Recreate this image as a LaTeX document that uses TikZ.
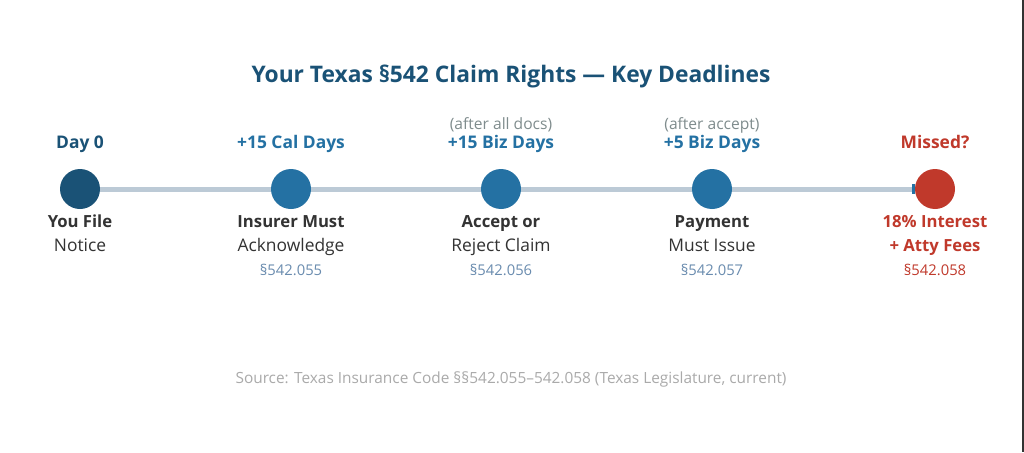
\documentclass[tikz,border=0pt]{standalone}
\usepackage{fontspec}
\setmainfont{Open Sans}
\usetikzlibrary{arrows.meta,backgrounds}
\definecolor{navy}{HTML}{1A5276}
\definecolor{mblue}{HTML}{2471A3}
\definecolor{redc}{HTML}{C0392B}
\definecolor{linec}{HTML}{BCCAD6}
\definecolor{dark}{HTML}{333333}
\definecolor{secc}{HTML}{6A8CAF}
\definecolor{grayc}{HTML}{7F8C8D}
\definecolor{srcc}{HTML}{AAAAAA}
\tikzset{
  dot/.style={circle, minimum size=40pt, inner sep=0pt},
  when/.style={anchor=base, inner sep=0pt, font=\fontsize{17.4}{20}\selectfont\bfseries},
  note/.style={anchor=base, inner sep=0pt, font=\fontsize{15.6}{18}\selectfont, text=grayc},
  head/.style={anchor=base, inner sep=0pt, font=\fontsize{16.7}{19}\selectfont\bfseries, text=dark},
  body/.style={anchor=base, inner sep=0pt, font=\fontsize{17.4}{20}\selectfont, text=dark},
  sect/.style={anchor=base, inner sep=0pt, font=\fontsize{14.8}{17}\selectfont, text=secc},
}
\begin{document}
\begin{tikzpicture}[x=1pt,y=-1pt]
\useasboundingbox (0,0) rectangle (1024,452);
% title
\node[anchor=base, inner sep=0pt, font=\fontsize{22.8}{26}\selectfont\bfseries, text=navy] (title) at (511,82) {Your Texas §542 Claim Rights — Key Deadlines};
% circles
\node[dot, fill=navy] (c1) at (80,189) {};
\node[dot, fill=mblue] (c2) at (291,189) {};
\node[dot, fill=mblue] (c3) at (501,189) {};
\node[dot, fill=mblue] (c4) at (712,189) {};
\node[dot, fill=redc] (c5) at (935,189) {};
% line
\begin{scope}[on background layer]
\fill[white] (0,0) rectangle (1024,452);
\fill[dark] (1021.5,0) rectangle (1024,452);
\draw[linec, line width=5pt, -{Rectangle[length=3pt,width=10pt,fill=mblue,color=mblue]}] (c1.center) -- (c5.west);
\end{scope}
% top labels
\node[when, text=navy] (t1) at (80,148) {Day 0};
\node[when, text=mblue] (t2) at (291,148) {+15 Cal Days};
\node[note] (n3) at (501,129) {(after all docs)};
\node[when, text=mblue] (t3) at (501,148) {+15 Biz Days};
\node[note] (n4) at (712,129) {(after accept)};
\node[when, text=mblue] (t4) at (712,148) {+5 Biz Days};
\node[when, text=redc] (t5) at (935,148) {Missed?};
% bottom labels
\node[head] (h1) at (80,227) {You File};
\node[body] (b1) at (80,251) {Notice};
\node[head] (h2) at (291,227) {Insurer Must};
\node[body] (b2) at (291,251) {Acknowledge};
\node[sect] (s2) at (291,275) {§542.055};
\node[head] (h3) at (501,227) {Accept or};
\node[body] (b3) at (501,251) {Reject Claim};
\node[sect] (s3) at (501,275) {§542.056};
\node[head] (h4) at (712,227) {Payment};
\node[body] (b4) at (712,251) {Must Issue};
\node[sect] (s4) at (712,275) {§542.057};
\node[head, text=redc] (h5) at (935,227) {18\% Interest};
\node[head, text=redc] (b5) at (935,251) {+ Atty Fees};
\node[sect, text=redc] (s5) at (935,275) {§542.058};
% source
\node[anchor=base, inner sep=0pt, font=\fontsize{15.4}{18}\selectfont, text=srcc] (src) at (511,383) {Source: Texas Insurance Code §§542.055–542.058 (Texas Legislature, current)};
\end{tikzpicture}
\end{document}
